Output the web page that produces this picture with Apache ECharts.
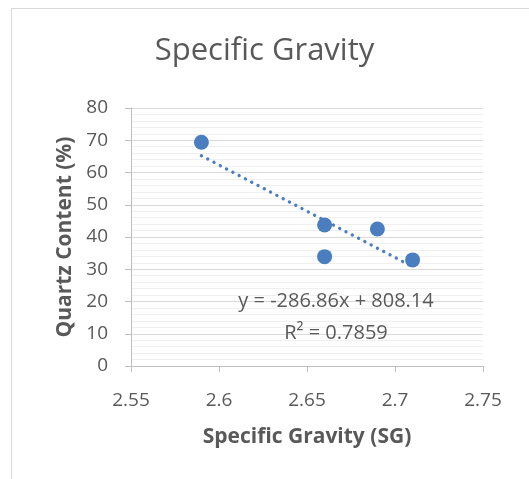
<!DOCTYPE html>
<html>
<head>
<meta charset="utf-8">
<script src="https://cdn.jsdelivr.net/npm/echarts@6/dist/echarts.min.js"></script>
<style>
  html, body { margin: 0; padding: 0; background: #fff; overflow: hidden; }
  #frame { position: absolute; left: 11px; top: 8px; width: 600px; height: 600px;
    border-top: 1px solid #d9d9d9; border-left: 1px solid #d9d9d9; }
  #chart { position: absolute; left: 0; top: 0; width: 529px; height: 479px; }
</style>
</head>
<body>
<div id="frame"></div>
<div id="chart"></div>
<script>
// measured points (SG, quartz %)
const sgValues = [2.59, 2.66, 2.66, 2.69, 2.71]
const quartzValues = [69.4, 43.7, 33.9, 42.5, 32.9]
// linear trendline ends as drawn
const trendX = [2.59, 2.71]
const trendY = [65.2, 30.8]
const equationText = 'y = -286.86x + 808.14'
const r2Text = 'R² = 0.7859'

const blue = '#4a7ebf'
const textGrey = '#595959'
const font = '"Open Sans", "Noto Sans", sans-serif'

const chart = echarts.init(document.getElementById('chart'), null, { renderer: 'canvas' })

chart.setOption({
  animation: false,
  title: {
    text: 'Specific Gravity',
    left: 'center',
    top: 31,
    textStyle: { fontFamily: font, fontSize: 31, fontWeight: 'normal', color: textGrey }
  },
  grid: { left: 131, right: 46, top: 108, bottom: 113 },
  xAxis: {
    type: 'value',
    min: 2.55,
    max: 2.75,
    interval: 0.05,
    name: 'Specific Gravity (SG)',
    nameLocation: 'middle',
    nameGap: 61,
    nameTextStyle: { fontFamily: font, fontSize: 21, fontWeight: 'bold', color: textGrey },
    axisLine: { show: true, lineStyle: { color: '#bfbfbf', width: 1 } },
    axisTick: { show: true, length: 6, lineStyle: { color: '#bfbfbf' } },
    axisLabel: { fontFamily: font, fontSize: 19, color: textGrey, margin: 25 },
    splitLine: { show: false }
  },
  yAxis: {
    type: 'value',
    min: 0,
    max: 80,
    interval: 10,
    name: 'Quartz Content (%)',
    nameLocation: 'middle',
    nameGap: 55,
    nameTextStyle: { fontFamily: font, fontSize: 21, fontWeight: 'bold', color: textGrey },
    axisLine: { show: true, lineStyle: { color: '#bfbfbf', width: 1 } },
    axisTick: { show: true, length: 6, lineStyle: { color: '#bfbfbf' } },
    axisLabel: { fontFamily: font, fontSize: 19, color: textGrey, margin: 23 },
    splitLine: { show: true, lineStyle: { color: '#d9d9d9', width: 1 } },
    minorTick: { show: false, splitNumber: 5 },
    minorSplitLine: { show: true, lineStyle: { color: '#f0f0f0', width: 1 } }
  },
  graphic: [
    {
      type: 'text',
      x: 336,
      y: 301,
      z: 10,
      style: { text: equationText, fontFamily: font, fontSize: 20, fill: textGrey,
        align: 'center', verticalAlign: 'middle' }
    },
    {
      type: 'text',
      x: 336,
      y: 333,
      z: 10,
      style: { text: r2Text, fontFamily: font, fontSize: 20, fill: textGrey,
        align: 'center', verticalAlign: 'middle' }
    }
  ],
  series: [
    {
      name: 'trend',
      type: 'line',
      data: trendX.map((x, i) => [x, trendY[i]]),
      symbol: 'none',
      lineStyle: { color: blue, width: 3.3, type: [0.1, 7], cap: 'round' },
      z: 2
    },
    {
      name: 'Quartz',
      type: 'scatter',
      data: sgValues.map((x, i) => [x, quartzValues[i]]),
      symbol: 'circle',
      symbolSize: 15,
      itemStyle: { color: blue, opacity: 1 },
      z: 3
    }
  ]
})
</script>
</body>
</html>
